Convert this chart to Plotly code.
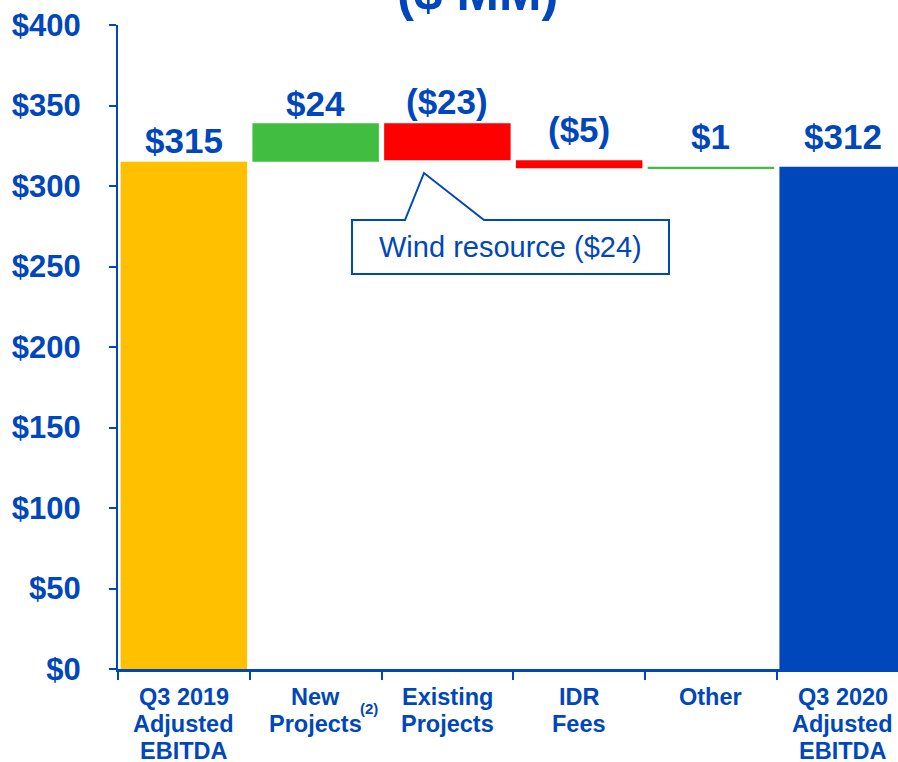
import plotly.graph_objects as go

# ---- data ----
categories = ["Q3 2019<br>Adjusted<br>EBITDA", "New<br>Projects", "Existing<br>Projects",
              "IDR<br>Fees", "Other", "Q3 2020<br>Adjusted<br>EBITDA"]
values = [315, 24, -23, -5, 1, 312]
kinds = ["total", "delta", "delta", "delta", "delta", "total"]
callout_text = "Wind resource ($24)"
title_text = "($ MM)"
footnote_mark = "(2)"
y_ticks = [0, 50, 100, 150, 200, 250, 300, 350, 400]
y_tick_text = [f"${v}" for v in y_ticks]

# ---- style ----
BLUE = "#0047BB"
GOLD = "#FFC000"
GREEN = "#41BE41"
RED = "#FF0000"
FONT = "Liberation Sans, Arial, sans-serif"
label_pad = [0, -2, 0, 9, 9, 9]

# plot area in page pixels: x 118..898, y 25..669
PX0, PW, PY0, PH = 118, 780, 669, 644


def px(x):
    return (x - PX0) / PW


def py(y):
    return (PY0 - y) / PH


bases, heights, colors, tops, labels = [], [], [], [], []
running = 0
for i, (v, k) in enumerate(zip(values, kinds)):
    if k == "total":
        bases.append(0)
        heights.append(v)
        running = v
        colors.append(GOLD if i == 0 else BLUE)
    else:
        bases.append(running)
        heights.append(v)
        colors.append(GREEN if v > 0 else RED)
        running += v
    tops.append(max(bases[-1], bases[-1] + heights[-1]))
    labels.append(f"${v}" if v >= 0 else f"(${-v})")

fig = go.Figure()
fig.add_trace(go.Bar(
    x=categories, y=heights, base=bases, width=0.96,
    marker=dict(color=colors, line=dict(width=0)),
    hoverinfo="skip", showlegend=False,
))

# value labels above bars
for c, t, lab, pad in zip(categories, tops, labels, label_pad):
    fig.add_annotation(x=c, y=t, text=f"<b>{lab}</b>", showarrow=False,
                       xanchor="center", yanchor="bottom", yshift=pad,
                       font=dict(family=FONT, size=35, color=BLUE))

# category labels (one text per line, tight line spacing)
for c in categories:
    for j, line in enumerate(c.split("<br>")):
        fig.add_annotation(x=c, xref="x", yref="paper", y=py(697 + 26.8 * j),
                           xanchor="center", yanchor="middle",
                           text=f"<b>{line}</b>", showarrow=False,
                           font=dict(family=FONT, size=23.5, color=BLUE))

# superscript on "New Projects"
fig.add_annotation(xref="paper", yref="paper", x=px(369), y=py(709),
                   xanchor="center", yanchor="middle",
                   text=f"<b>{footnote_mark}</b>", showarrow=False,
                   font=dict(family=FONT, size=15, color=BLUE))

# title (partially cut off at top)
fig.add_annotation(xref="paper", yref="paper", x=px(477), y=py(23),
                   xanchor="center", yanchor="bottom",
                   text=f"<b>{title_text}</b>", showarrow=False,
                   font=dict(family=FONT, size=51, color=BLUE))

# callout box
L, R = px(352), px(669)
T, B = py(220), py(274)
p1, ax_, p2 = px(405), px(424), px(484)
ay = py(173)
path = (f"M {L},{T} L {p1},{T} L {ax_},{ay} L {p2},{T} L {R},{T} "
        f"L {R},{B} L {L},{B} Z")
fig.add_shape(type="path", xref="paper", yref="paper", path=path,
              line=dict(color=BLUE, width=2), fillcolor="white", layer="above")
fig.add_annotation(xref="paper", yref="paper", x=(L + R) / 2, y=(T + B) / 2,
                   xanchor="center", yanchor="middle",
                   text=callout_text, showarrow=False,
                   font=dict(family=FONT, size=29, color=BLUE))

fig.update_layout(
    width=898, height=762,
    margin=dict(l=118, r=0, t=25, b=93),
    paper_bgcolor="white", plot_bgcolor="white",
    bargap=0.04,
)
fig.update_xaxes(
    type="category", range=[-0.5, 5.42], automargin=False,
    showline=True, linecolor=BLUE, linewidth=3,
    ticks="outside", tickson="boundaries", ticklen=8, tickwidth=2, tickcolor=BLUE,
    showticklabels=False,
    showgrid=False, zeroline=False, fixedrange=True,
)
fig.update_yaxes(
    range=[0, 400], tickvals=y_ticks, ticktext=y_tick_text, automargin=False,
    showline=True, linecolor=BLUE, linewidth=2,
    ticks="outside", ticklen=7, tickwidth=2, tickcolor=BLUE,
    ticklabelstandoff=22, ticklabeloverflow="allow",
    tickfont=dict(family=FONT, size=31, color=BLUE, weight="bold"),
    showgrid=False, zeroline=False, fixedrange=True,
)

fig.write_html(
    "out.html",
    config={"displayModeBar": False},
    post_script=("document.body.style.margin='0';"
                 "document.documentElement.style.overflow='hidden';"
                 "document.body.style.overflow='hidden';"),
)
